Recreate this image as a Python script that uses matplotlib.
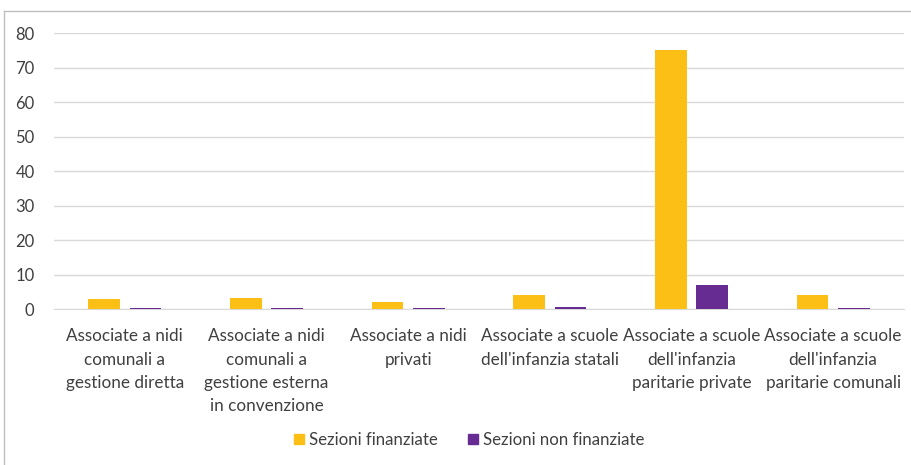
import numpy as np
import matplotlib.pyplot as plt
from matplotlib.patches import Rectangle
from matplotlib.lines import Line2D

categories = [
    "Associate a nidi\ncomunali a\ngestione diretta",
    "Associate a nidi\ncomunali a\ngestione esterna\nin convenzione",
    "Associate a nidi\nprivati",
    "Associate a scuole\ndell'infanzia statali",
    "Associate a scuole\ndell'infanzia\nparitarie private",
    "Associate a scuole\ndell'infanzia\nparitarie comunali",
]
finanziate = [2.9, 3.2, 2.0, 4.0, 75.0, 4.0]
non_finanziate = [0.2, 0.2, 0.2, 0.6, 7.0, 0.2]
yticks = [0, 10, 20, 30, 40, 50, 60, 70, 80]

plt.rcParams['font.family'] = ['Lato', 'DejaVu Sans']

fig = plt.figure(figsize=(9.11, 4.65), dpi=100)
ax = fig.add_axes([54 / 911, 1 - 309 / 465, 850 / 911, 276 / 465])

x = np.arange(len(categories))
w = 0.223
ax.bar(x - 0.145, finanziate, w, color='#fbbf15', label='Sezioni finanziate', zorder=3)
ax.bar(x + 0.145, non_finanziate, w, color='#672c91', label='Sezioni non finanziate', zorder=3)

ax.set_xlim(-0.5, len(categories) - 0.5)
ax.set_ylim(0, 80)
ax.set_yticks(yticks)
ax.yaxis.grid(True, color='#d9d9d9', linewidth=1)
ax.set_axisbelow(True)
for s in ['top', 'right', 'left']:
    ax.spines[s].set_visible(False)
ax.spines['bottom'].set_color('#d9d9d9')
ax.tick_params(axis='y', length=0, labelsize=12, colors='#404040', pad=14)
ax.tick_params(axis='x', length=0, labelsize=12.3, colors='#404040', pad=14)
ax.set_xticks(x)
ax.set_xticklabels(categories, linespacing=1.55)

handles = [Rectangle((0, 0), 1, 1, color='#fbbf15'), Rectangle((0, 0), 1, 1, color='#672c91')]
fig.legend(handles, ['Sezioni finanziate', 'Sezioni non finanziate'], loc='center',
           bbox_to_anchor=(469 / 911, 1 - 440 / 465), ncol=2, frameon=False,
           fontsize=12.1, handlelength=0.6, handleheight=0.6, handletextpad=0.3,
           columnspacing=1.8, labelcolor='#404040')

# chart frame (only top and left visible in the crop)
fig.add_artist(Line2D([4 / 911, 4 / 911], [0, 1 - 11 / 465], color='#bfbfbf', lw=1))
fig.add_artist(Line2D([4 / 911, 1], [1 - 11 / 465, 1 - 11 / 465], color='#bfbfbf', lw=1))

fig.savefig('out.png', dpi=100)
